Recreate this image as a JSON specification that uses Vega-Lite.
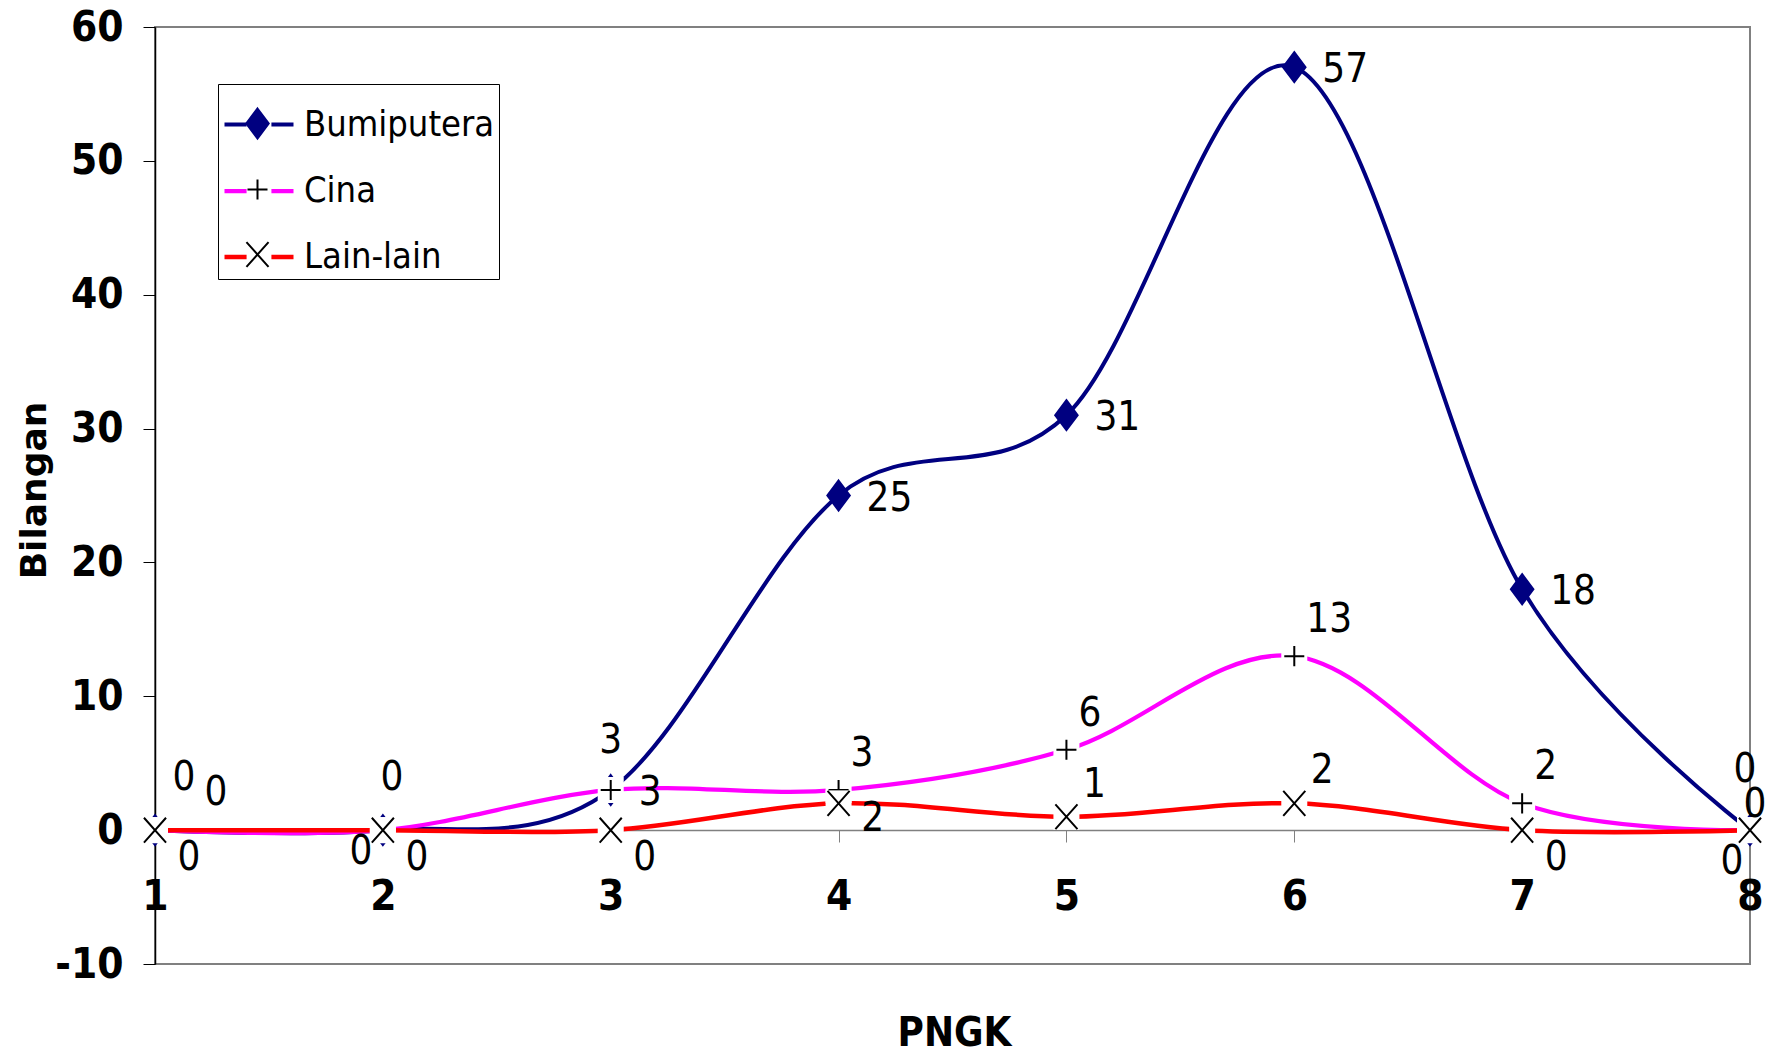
{
  "$schema": "https://vega.github.io/schema/vega-lite/v6.json",
  "width": 1595,
  "height": 937,
  "autosize": {"type": "none"},
  "padding": {"left": 155, "top": 27, "right": 24, "bottom": 93},
  "background": "white",
  "config": {
    "view": {"stroke": "#808080", "strokeWidth": 2},
    "axis": {"grid": false, "labelColor": "black", "titleColor": "black"}
  },
  "data": {
    "values": [
      {"PNGK": 1, "series": "Bumiputera", "value": 0},
      {"PNGK": 2, "series": "Bumiputera", "value": 0},
      {"PNGK": 3, "series": "Bumiputera", "value": 3},
      {"PNGK": 4, "series": "Bumiputera", "value": 25},
      {"PNGK": 5, "series": "Bumiputera", "value": 31},
      {"PNGK": 6, "series": "Bumiputera", "value": 57},
      {"PNGK": 7, "series": "Bumiputera", "value": 18},
      {"PNGK": 8, "series": "Bumiputera", "value": 0},
      {"PNGK": 1, "series": "Cina", "value": 0},
      {"PNGK": 2, "series": "Cina", "value": 0},
      {"PNGK": 3, "series": "Cina", "value": 3},
      {"PNGK": 4, "series": "Cina", "value": 3},
      {"PNGK": 5, "series": "Cina", "value": 6},
      {"PNGK": 6, "series": "Cina", "value": 13},
      {"PNGK": 7, "series": "Cina", "value": 2},
      {"PNGK": 8, "series": "Cina", "value": 0},
      {"PNGK": 1, "series": "Lain-lain", "value": 0},
      {"PNGK": 2, "series": "Lain-lain", "value": 0},
      {"PNGK": 3, "series": "Lain-lain", "value": 0},
      {"PNGK": 4, "series": "Lain-lain", "value": 2},
      {"PNGK": 5, "series": "Lain-lain", "value": 1},
      {"PNGK": 6, "series": "Lain-lain", "value": 2},
      {"PNGK": 7, "series": "Lain-lain", "value": 0},
      {"PNGK": 8, "series": "Lain-lain", "value": 0}
    ]
  },
  "encoding": {
    "x": {
      "field": "PNGK", "type": "quantitative",
      "scale": {"domain": [1, 8], "nice": false, "zero": false},
      "axis": {
        "values": [1, 2, 3, 4, 5, 6, 7, 8], "format": "d",
        "offset": -134,
        "labelFont": "DejaVu Sans Condensed, Roboto Condensed, Liberation Sans Narrow, Roboto, sans-serif", "labelFontWeight": "bold", "labelFontSize": 42,
        "labelBaseline": "top", "labelPadding": 34, "labelFlush": false, "labelOverlap": false, "labelBound": false,
        "domainColor": "#808080", "domainWidth": 1.5,
        "tickColor": "#808080", "tickSize": 12, "tickWidth": 1,
        "title": "PNGK", "titleFont": "DejaVu Sans Condensed, Roboto Condensed, Liberation Sans Narrow, Roboto, sans-serif", "titleFontWeight": "bold", "titleFontSize": 40,
        "titleX": 799, "titleY": 203, "titleAlign": "center", "titleBaseline": "middle"
      }
    },
    "y": {
      "field": "value", "type": "quantitative",
      "scale": {"domain": [-10, 60], "nice": false, "zero": false},
      "axis": {
        "values": [-10, 0, 10, 20, 30, 40, 50, 60],
        "labelExpr": "'' + datum.value",
        "labelFont": "DejaVu Sans Condensed, Roboto Condensed, Liberation Sans Narrow, Roboto, sans-serif", "labelFontWeight": "bold", "labelFontSize": 42,
        "labelPadding": 20, "labelBaseline": "middle",
        "domainColor": "black", "domainWidth": 1.5,
        "tickColor": "black", "tickSize": 12, "tickWidth": 1,
        "title": "Bilangan", "titleFont": "DejaVu Sans", "titleFontWeight": "bold", "titleFontSize": 36,
        "titleX": -121, "titleY": 463, "titleAlign": "center", "titleBaseline": "middle", "titleAngle": -90
      }
    }
  },
  "layer": [
    {
      "mark": {"type": "line", "interpolate": "cardinal"},
      "encoding": {
        "color": {
          "field": "series", "type": "nominal",
          "scale": {"domain": ["Bumiputera", "Cina", "Lain-lain"], "range": ["#000080", "#FF00FF", "#FF0000"]},
          "legend": {
            "orient": "none", "legendX": 63, "legendY": 57, "title": null,
            "symbolType": "M-1,0H-0.36M0.36,0H1", "symbolSize": 4761, "symbolStrokeWidth": 4,
            "labelFont": "DejaVu Sans Condensed, Roboto Condensed, Liberation Sans Narrow, Roboto, sans-serif", "labelFontSize": 36, "labelColor": "black", "labelOffset": 8, "labelLimit": 400,
            "strokeColor": "black", "padding": 4, "rowPadding": 11
          }
        },
        "strokeWidth": {
          "field": "series", "type": "nominal",
          "scale": {"domain": ["Bumiputera", "Cina", "Lain-lain"], "range": [4, 4.5, 5.5]},
          "legend": null
        }
      }
    },
    {
      "transform": [{"filter": "datum.series == 'Bumiputera'"}],
      "mark": {"type": "point", "size": 4761, "strokeWidth": 2, "opacity": 1, "fillOpacity": 1, "strokeOpacity": 1},
      "encoding": {
        "shape": {"field": "series", "type": "nominal", "scale": {"domain": ["Bumiputera", "Cina", "Lain-lain", " "], "range": ["M0,-0.435L0.326,0L0,0.435L-0.326,0Z", "M-0.29,0H0.29M0,-0.29V0.29", "M-0.32,-0.36L0.32,0.36M-0.32,0.36L0.32,-0.36", "M0,0"]},
          "legend": {"orient": "none", "legendX": 63, "legendY": 57, "title": null, "symbolSize": 4761, "symbolStrokeWidth": 2, "labelFont": "DejaVu Sans Condensed, Roboto Condensed, Liberation Sans Narrow, Roboto, sans-serif", "labelFontSize": 36, "labelOpacity": 0, "labelOffset": 8, "labelLimit": 400, "padding": 4, "rowPadding": 11}},
        "stroke": {"field": "series", "type": "nominal", "scale": {"domain": ["Bumiputera", "Cina", "Lain-lain", " "], "range": ["#000080", "black", "black", "transparent"]},
          "legend": {"orient": "none", "legendX": 63, "legendY": 57, "title": null, "symbolSize": 4761, "symbolStrokeWidth": 2, "labelFont": "DejaVu Sans Condensed, Roboto Condensed, Liberation Sans Narrow, Roboto, sans-serif", "labelFontSize": 36, "labelOpacity": 0, "labelOffset": 8, "labelLimit": 400, "padding": 4, "rowPadding": 11}},
        "fill": {"field": "series", "type": "nominal", "scale": {"domain": ["Bumiputera", "Cina", "Lain-lain", " "], "range": ["#000080", "transparent", "transparent", "transparent"]},
          "legend": {"orient": "none", "legendX": 63, "legendY": 57, "title": null, "symbolSize": 4761, "symbolStrokeWidth": 2, "labelFont": "DejaVu Sans Condensed, Roboto Condensed, Liberation Sans Narrow, Roboto, sans-serif", "labelFontSize": 36, "labelOpacity": 0, "labelOffset": 8, "labelLimit": 400, "padding": 4, "rowPadding": 11}}
      }
    },
    {
      "transform": [{"filter": "datum.series == 'Cina'"}],
      "mark": {"type": "point", "shape": "square", "filled": true, "color": "white", "opacity": 1, "size": 676}
    },
    {
      "transform": [{"filter": "datum.series == 'Cina'"}],
      "mark": {"type": "point", "size": 4761, "strokeWidth": 2, "opacity": 1, "fillOpacity": 1, "strokeOpacity": 1},
      "encoding": {
        "shape": {"field": "series", "type": "nominal"},
        "stroke": {"field": "series", "type": "nominal"},
        "fill": {"field": "series", "type": "nominal"}
      }
    },
    {
      "transform": [{"filter": "datum.series == 'Lain-lain'"}],
      "mark": {"type": "point", "shape": "square", "filled": true, "color": "white", "opacity": 1, "size": 676}
    },
    {
      "transform": [{"filter": "datum.series == 'Lain-lain'"}],
      "mark": {"type": "point", "size": 4761, "strokeWidth": 2, "opacity": 1, "fillOpacity": 1, "strokeOpacity": 1},
      "encoding": {
        "shape": {"field": "series", "type": "nominal"},
        "stroke": {"field": "series", "type": "nominal"},
        "fill": {"field": "series", "type": "nominal"}
      }
    },
    {
      "transform": [{"filter": "datum.series == 'Bumiputera' && datum.value > 0"}],
      "mark": {"type": "text", "align": "left", "baseline": "middle", "dx": 28, "dy": 3, "font": "DejaVu Sans Condensed, Roboto Condensed, Liberation Sans Narrow, Roboto, sans-serif", "fontSize": 40, "color": "black"},
      "encoding": {"text": {"field": "value"}}
    },
    {
      "transform": [{"filter": "datum.series == 'Cina' && datum.value > 0 && datum.PNGK != 3"}],
      "mark": {"type": "text", "align": "left", "baseline": "middle", "dx": 12, "dy": -36, "font": "DejaVu Sans Condensed, Roboto Condensed, Liberation Sans Narrow, Roboto, sans-serif", "fontSize": 40, "color": "black"},
      "encoding": {"text": {"field": "value"}}
    },
    {
      "transform": [{"filter": "datum.series == 'Cina' && datum.PNGK == 3"}],
      "mark": {"type": "text", "align": "center", "baseline": "middle", "dx": 0, "dy": -49, "font": "DejaVu Sans Condensed, Roboto Condensed, Liberation Sans Narrow, Roboto, sans-serif", "fontSize": 40, "color": "black"},
      "encoding": {"text": {"field": "value"}}
    },
    {
      "transform": [{"filter": "datum.series == 'Lain-lain' && datum.PNGK == 4"}],
      "mark": {"type": "text", "align": "center", "baseline": "middle", "dx": 34, "dy": 16, "font": "DejaVu Sans Condensed, Roboto Condensed, Liberation Sans Narrow, Roboto, sans-serif", "fontSize": 40, "color": "black"},
      "encoding": {"text": {"field": "value"}}
    },
    {
      "transform": [{"filter": "datum.series == 'Lain-lain' && (datum.PNGK == 5 || datum.PNGK == 6)"}],
      "mark": {"type": "text", "align": "center", "baseline": "middle", "dx": 28, "dy": -32, "font": "DejaVu Sans Condensed, Roboto Condensed, Liberation Sans Narrow, Roboto, sans-serif", "fontSize": 40, "color": "black"},
      "encoding": {"text": {"field": "value"}}
    },
    {
      "transform": [{"filter": "datum.series == 'Lain-lain' && datum.value == 0 && datum.PNGK != 8"}],
      "mark": {"type": "text", "align": "center", "baseline": "middle", "dx": 34, "dy": 28, "font": "DejaVu Sans Condensed, Roboto Condensed, Liberation Sans Narrow, Roboto, sans-serif", "fontSize": 40, "color": "black"},
      "encoding": {"text": {"field": "value"}}
    },
    {
      "transform": [{"filter": "datum.series == 'Lain-lain' && datum.PNGK == 8"}],
      "mark": {"type": "text", "align": "center", "baseline": "middle", "dx": -18, "dy": 32, "font": "DejaVu Sans Condensed, Roboto Condensed, Liberation Sans Narrow, Roboto, sans-serif", "fontSize": 40, "color": "black"},
      "encoding": {"text": {"field": "value"}}
    },
    {
      "transform": [{"filter": "datum.series == 'Cina' && datum.PNGK == 1"}],
      "mark": {"type": "text", "align": "center", "baseline": "middle", "dx": 29, "dy": -52, "font": "DejaVu Sans Condensed, Roboto Condensed, Liberation Sans Narrow, Roboto, sans-serif", "fontSize": 40, "color": "black"},
      "encoding": {"text": {"field": "value"}}
    },
    {
      "transform": [{"filter": "datum.series == 'Cina' && datum.PNGK == 2"}],
      "mark": {"type": "text", "align": "center", "baseline": "middle", "dx": 9, "dy": -52, "font": "DejaVu Sans Condensed, Roboto Condensed, Liberation Sans Narrow, Roboto, sans-serif", "fontSize": 40, "color": "black"},
      "encoding": {"text": {"field": "value"}}
    },
    {
      "transform": [{"filter": "datum.series == 'Cina' && datum.PNGK == 8"}],
      "mark": {"type": "text", "align": "center", "baseline": "middle", "dx": -5, "dy": -60, "font": "DejaVu Sans Condensed, Roboto Condensed, Liberation Sans Narrow, Roboto, sans-serif", "fontSize": 40, "color": "black"},
      "encoding": {"text": {"field": "value"}}
    },
    {
      "transform": [{"filter": "datum.series == 'Bumiputera' && datum.PNGK == 1"}],
      "mark": {"type": "text", "align": "center", "baseline": "middle", "dx": 61, "dy": -37, "font": "DejaVu Sans Condensed, Roboto Condensed, Liberation Sans Narrow, Roboto, sans-serif", "fontSize": 40, "color": "black"},
      "encoding": {"text": {"field": "value"}}
    },
    {
      "transform": [{"filter": "datum.series == 'Bumiputera' && datum.PNGK == 2"}],
      "mark": {"type": "text", "align": "center", "baseline": "middle", "dx": -22, "dy": 22, "font": "DejaVu Sans Condensed, Roboto Condensed, Liberation Sans Narrow, Roboto, sans-serif", "fontSize": 40, "color": "black"},
      "encoding": {"text": {"field": "value"}}
    },
    {
      "transform": [{"filter": "datum.series == 'Bumiputera' && datum.PNGK == 8"}],
      "mark": {"type": "text", "align": "center", "baseline": "middle", "dx": 5, "dy": -25, "font": "DejaVu Sans Condensed, Roboto Condensed, Liberation Sans Narrow, Roboto, sans-serif", "fontSize": 40, "color": "black"},
      "encoding": {"text": {"field": "value"}}
    }
  ]
}
